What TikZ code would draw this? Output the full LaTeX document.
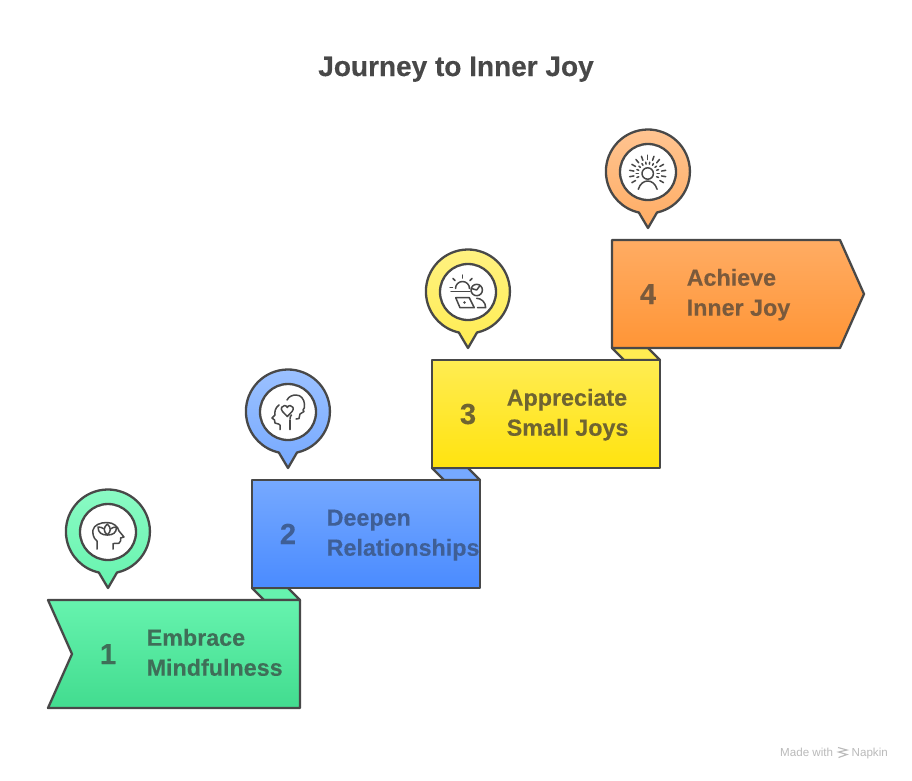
\documentclass[tikz,border=0pt]{standalone}
\usepackage{fontspec}
\setmainfont[BoldFeatures={FakeBold=0.3}]{Liberation Sans}
\usetikzlibrary{calc}
\definecolor{ink}{HTML}{484848}
\definecolor{gA}{HTML}{66F3AE}\definecolor{gB}{HTML}{42DC8F}\definecolor{gL}{HTML}{8CFBC5}\definecolor{gT}{HTML}{3F6E58}
\definecolor{bA}{HTML}{76A9FF}\definecolor{bB}{HTML}{4A8BFF}\definecolor{bL}{HTML}{9DC2FF}\definecolor{bT}{HTML}{3F5F96}
\definecolor{yA}{HTML}{FFEC52}\definecolor{yB}{HTML}{FFE30F}\definecolor{yL}{HTML}{FFF283}\definecolor{yT}{HTML}{6F6431}
\definecolor{oA}{HTML}{FFAC63}\definecolor{oB}{HTML}{FF9536}\definecolor{oL}{HTML}{FFC593}\definecolor{oT}{HTML}{7A5A3C}
\tikzset{
  x=1pt,y=-1pt,
  outline/.style={draw=ink,line width=2.3pt,line join=round},
  steplabel/.style={anchor=base west,inner sep=0pt,font=\fontsize{23.3}{30}\selectfont\bfseries},
  stepnum/.style={anchor=base,inner sep=0pt,font=\fontsize{29}{30}\selectfont\bfseries},
  iconhole/.style={circle,draw=ink,line width=2.3pt,fill=white,minimum size=56pt,inner sep=0pt},
  glyph/.style={draw=ink,line width=1.5pt,line cap=round,line join=round},
  credit/.style={inner sep=0pt,text=black!27,font=\fontsize{11.6}{13}\selectfont}
}
\newcommand{\lbl}[2]{\begin{tabular}[t]{@{}l@{}}#1\\#2\end{tabular}}
% pin: centre x, centre y, top colour, bottom colour, name
\newcommand{\pinshape}[5]{%
  \draw[outline,top color=#3,bottom color=#4]
    ({#1+9},{#2+40.5}) arc[start angle=-77.5,delta angle=335,radius=42pt]
    -- ({#1},{#2+56}) -- cycle;
  \node[iconhole] (#5) at (#1,#2) {};
}
\begin{document}
\begin{tikzpicture}
\useasboundingbox (0,0) rectangle (912,780);
\fill[white] (0,0) rectangle (912,780);

\node[anchor=base,inner sep=0pt,text=ink,font=\fontsize{28}{30}\selectfont\bfseries] (title) at (456,76) {Journey to Inner Joy};

% tabs
\draw[outline,fill=gA] (252,588) -- (264,600) -- (300,600) -- (288,588) -- cycle;
\draw[outline,fill=bA] (432,468) -- (444,480) -- (480,480) -- (468,468) -- cycle;
\draw[outline,fill=yA] (612,348) -- (624,360) -- (660,360) -- (648,348) -- cycle;

% steps
\draw[outline,top color=gA,bottom color=gB] (48,600) -- (300,600) -- (300,708) -- (48,708) -- (72,654) -- cycle;
\draw[outline,top color=bA,bottom color=bB] (252,480) rectangle (480,588);
\draw[outline,top color=yA,bottom color=yB] (432,360) rectangle (660,468);
\draw[outline,top color=oA,bottom color=oB] (612,240) -- (840,240) -- (864,294) -- (840,348) -- (612,348) -- cycle;

% numbers
\node[stepnum,text=gT] (n1) at (108,664) {1};
\node[stepnum,text=bT] (n2) at (288,544) {2};
\node[stepnum,text=yT] (n3) at (468,424) {3};
\node[stepnum,text=oT] (n4) at (648,304) {4};

% labels
\node[steplabel,text=gT] (t1) at (146.5,645.7) {\lbl{Embrace}{Mindfulness}};
\node[steplabel,text=bT] (t2) at (326.5,525.7) {\lbl{Deepen}{Relationships}};
\node[steplabel,text=yT] (t3) at (506.5,405.7) {\lbl{Appreciate}{Small Joys}};
\node[steplabel,text=oT] (t4) at (686.5,285.7) {\lbl{Achieve}{Inner Joy}};

% pins
\pinshape{108}{532}{gL}{gA}{p1}
\pinshape{288}{412}{bL}{bA}{p2}
\pinshape{468}{292}{yL}{yA}{p3}
\pinshape{648}{172}{oL}{oA}{p4}

% icon 1: head with lotus
\begin{scope}[shift={(108,532)},glyph]
  \draw (-11,17) -- (-11,9) .. controls (-15,6) and (-15.5,1) .. (-15,-2)
    .. controls (-14,-7) and (-8,-9.5) .. (-1,-9.5)
    .. controls (6,-9.5) and (10,-5) .. (11,-1) -- (16,5) -- (12.5,6) -- (12.5,9)
    .. controls (12.5,11.5) and (11,11.5) .. (5,11.5) -- (5,17);
  \draw (-0.7,3) .. controls (-5,-1) and (-4.5,-4.5) .. (-0.7,-8)
    .. controls (3,-4.5) and (3.5,-1) .. cycle;
  \draw (-0.7,3) .. controls (-6,3) and (-10,1) .. (-10,-5)
    .. controls (-7.5,-5) and (-6,-4.5) .. (-4.2,-3.2);
  \draw (-0.7,3) .. controls (5,3) and (8.5,1) .. (8.5,-5)
    .. controls (6,-5) and (4.5,-4.5) .. (2.8,-3.2);
\end{scope}

% icon 2: two heads and a heart
\begin{scope}[shift={(288,412)},glyph]
  \draw (-1,-12) .. controls (1,-16) and (5,-17) .. (8,-17)
    .. controls (13,-17) and (16,-13) .. (16.5,-8)
    .. controls (17,-5) and (16,-3) .. (15,-2) -- (16,-0.5) -- (12,2) -- (11,6.5) -- (8,7);
  \draw (-9,-7) .. controls (-13,-4) and (-13.5,0) .. (-13,3) -- (-16,6)
    -- (-13.5,8) -- (-13,11) -- (-9.5,12) -- (-8,13) -- (-8,17.5);
  \draw (2,8) -- (2,17.5);
  \draw (2,7) .. controls (2,5) and (2.5,4) .. (3.5,3);
  \draw (-0.7,4.5) -- (-5.5,-0.5) .. controls (-8,-3.5) and (-6,-6.5) .. (-3.5,-6.5)
    .. controls (-2,-6.5) and (-1,-5.5) .. (-0.7,-4.5)
    .. controls (-0.4,-5.5) and (0.6,-6.5) .. (2.1,-6.5)
    .. controls (4.6,-6.5) and (6.6,-3.5) .. (4.1,-0.5) -- cycle;
\end{scope}

% icon 3: sun, clock, laptop
\begin{scope}[shift={(468,292)},glyph]
  \draw (-17,-0.5) -- (2,-0.5);
  \draw (-12.5,-3.5) arc[start angle=180,end angle=0,radius=7pt];
  \draw (-5.5,-14) -- (-5.5,-17);
  \draw (-13,-11.5) -- (-15,-13.5);
  \draw (2,-11.5) -- (4,-13.5);
  \draw (-18,-4.5) -- (-15.5,-4.5);
  \draw (8.7,-2) circle[radius=5.7pt];
  \draw (3.5,-3.5) -- (8.7,-2) -- (12,-6.5);
  \draw (-12.3,5.7) -- (1.3,5.7) -- (6.3,15.7) -- (-8,15.7) -- cycle;
  \fill[ink] (-3.5,10.5) circle[radius=1.4pt];
  \draw (8.7,6.3) .. controls (13,6.3) and (17.7,10) .. (17.7,15.7) -- (9.5,15.7);
\end{scope}

% icon 4: radiant person
\begin{scope}[shift={(648,172)},glyph]
  \draw (-0.3,1.5) circle[radius=5.7pt];
  \draw (-9.7,17.3) .. controls (-8,11.5) and (-4,9) .. (-0.3,9) .. controls (3.4,9) and (7.4,11.5) .. (9.1,17.3);
  \foreach \a in {-210,-190,...,30} {
    \draw ({-0.3+14*cos(\a)},{1.5+14*sin(\a)}) -- ({-0.3+18.3*cos(\a)},{1.5+18.3*sin(\a)});
  }
  \foreach \a in {-200,-180,...,20} {
    \draw ({-0.3+9.5*cos(\a)},{1.5+9.5*sin(\a)}) -- ({-0.3+11.5*cos(\a)},{1.5+11.5*sin(\a)});
  }
\end{scope}

% credit
\node[credit,anchor=base west] (made) at (780,756) {Made with};
\node[credit,anchor=base west] (napkin) at (851.5,756) {Napkin};
\draw[black!27,line width=1.1pt] (838,747.5) -- (847,750) -- (838.5,752) -- (847,754.5) -- (838.5,757.5);
\end{tikzpicture}
\end{document}
